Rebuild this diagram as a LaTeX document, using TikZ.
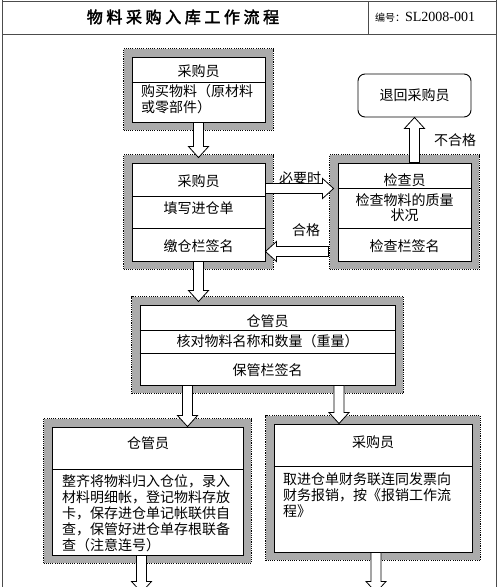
\documentclass[tikz,border=0pt]{standalone}
\usepackage{fontspec}
\setmainfont{Noto Sans CJK SC}
\newfontfamily\titlefont[FakeBold=2.5]{Noto Sans CJK SC}
\newfontfamily\numfont{Liberation Serif}
\usetikzlibrary{calc,fit,backgrounds}

\tikzset{
  panel/.style={draw=black, line width=0.9pt, fill=white, inner sep=0pt},
  shadeframe/.style={fill=black!33, draw=black, line width=1.1pt,
    dash pattern=on 1.1pt off 1.1pt, inner sep=8pt},
  txt/.style={inner sep=0pt, font=\fontsize{14}{16}\selectfont},
  body/.style={txt, anchor=north west, align=left},
  hollow/.style={draw=black, line width=0.8pt, fill=white, line join=miter},
  rule/.style={draw=black, line width=0.8pt},
  pageline/.style={draw=black!70, line width=1pt},
}

% hollow block arrow from #1 to the tip #2
\newcommand{\hollowarrow}[2]{%
  \coordinate (ha) at ($(#2)!11pt!(#1)$);
  \path[hollow] ($(#1)!5pt!90:(#2)$) -- ($(ha)!5pt!90:(#2)$)
    -- ($(ha)!10pt!90:(#2)$) -- (#2) -- ($(ha)!10pt!-90:(#2)$)
    -- ($(ha)!5pt!-90:(#2)$) -- ($(#1)!5pt!-90:(#2)$) -- cycle;
}

\begin{document}
\begin{tikzpicture}[x=1pt,y=-1pt]
  \useasboundingbox (0,0) rectangle (500,587);

  % page frame and title row
  \draw[pageline] (2,0) -- (2,587);
  \draw[pageline] (496,0) -- (496,587);
  \draw[pageline] (2,1) -- (496,1);
  \draw[pageline] (2,34) -- (496,34);
  \draw[pageline] (368,1) -- (368,34);
  \node[inner sep=0pt, font=\titlefont\fontsize{16}{18}\selectfont] (title) at (183,17)
    {物 料 采 购 入 库 工 作 流 程};
  \node[inner sep=0pt] (code) at (425,17)
    {{\fontsize{10}{12}\selectfont 编号：}{\numfont\fontsize{14}{16}\selectfont SL2008-001}};

  % boxes
  \node[panel, minimum width=133pt, minimum height=65pt] (buy) at (198.5,89.5) {};
  \node[panel, minimum width=133pt, minimum height=98pt] (entry) at (198.5,212) {};
  \node[panel, minimum width=133pt, minimum height=98pt] (check) at (404.5,212) {};
  \node[panel, txt, rounded corners=7pt, minimum width=113pt, minimum height=43pt] (ret)
    at (414.5,95.5) {退回采购员};
  \node[panel, minimum width=255pt, minimum height=80pt] (store) at (267.5,345) {};
  \node[panel, minimum width=191pt, minimum height=128pt] (shelve) at (147.5,491) {};
  \node[panel, minimum width=198pt, minimum height=128pt] (claim) at (373,488) {};

  \begin{scope}[on background layer]
    \node[shadeframe, fit=(buy)] (buy-f) {};
    \node[shadeframe, fit=(entry)] (entry-f) {};
    \node[shadeframe, fit=(check)] (check-f) {};
    \node[shadeframe, fit=(store)] (store-f) {};
    \node[shadeframe, fit=(shelve)] (shelve-f) {};
    \node[shadeframe, fit=(claim)] (claim-f) {};
  \end{scope}

  % dividers
  \draw[rule] (buy.west |- 0,82) -- (buy.east |- 0,82);
  \draw[rule] (entry.west |- 0,196) -- (entry.east |- 0,196);
  \draw[rule] (entry.west |- 0,228) -- (entry.east |- 0,228);
  \draw[rule] (check.west |- 0,188) -- (check.east |- 0,188);
  \draw[rule] (check.west |- 0,228) -- (check.east |- 0,228);
  \draw[rule] (store.west |- 0,330) -- (store.east |- 0,330);
  \draw[rule] (store.west |- 0,353) -- (store.east |- 0,353);
  \draw[rule] (shelve.west |- 0,469) -- (shelve.east |- 0,469);
  \draw[rule] (claim.west |- 0,466) -- (claim.east |- 0,466);

  % texts
  \node[txt] (buy-h) at (198.5,71) {采购员};
  \node[body] (buy-b) at (141,84) {购买物料（原材料\\或零部件）};
  \node[txt] (entry-h) at (198.5,181) {采购员};
  \node[txt] (entry-m) at (198.5,208) {填写进仓单};
  \node[txt] (entry-s) at (198.5,246) {缴仓栏签名};
  \node[txt] (check-h) at (404.5,180) {检查员};
  \node[txt, align=center, font=\fontsize{14}{15}\selectfont] (check-m) at (404.5,207.5)
    {检查物料的质量\\状况};
  \node[txt] (check-s) at (404.5,246) {检查栏签名};
  \node[txt] (store-h) at (267.5,321) {仓管员};
  \node[txt] (store-m) at (267.5,341.5) {核对物料名称和数量（重量）};
  \node[txt] (store-s) at (267.5,370) {保管栏签名};
  \node[txt] (shelve-h) at (148,443) {仓管员};
  \node[body] (shelve-b) at (62,474)
    {整齐将物料归入仓位，录入\\材料明细帐，登记物料存放\\卡，保存进仓单记帐联供自\\查，保管好进仓单存根联备\\查（注意连号）};
  \node[txt] (claim-h) at (373,442) {采购员};
  \node[body] (claim-b) at (283,472)
    {取进仓单财务联连同发票向\\财务报销，按《报销工作流\\程》};

  % labels
  \node[txt] (need) at (300,178) {必要时};
  \node[txt] (pass) at (306,230) {合格};
  \node[txt] (fail) at (455,140) {不合格};

  % arrow ends
  \coordinate (entry-in) at ($(entry.north)+(0,-5)$);
  \coordinate (store-in) at ($(entry.south |- store.north)+(0,-3)$);
  \coordinate (store-l) at ($(store.south)+(-80,0)$);
  \coordinate (shelve-in) at (store-l |- shelve.north);
  \coordinate (store-r) at ($(store.south)+(71.5,0)$);
  \coordinate (claim-in) at (store-r |- claim.north);
  \coordinate (shelve-out) at ($(shelve.south)+(-6,0)$);
  \coordinate (shelve-end) at ($(shelve-out)+(0,37)$);
  \coordinate (claim-out) at ($(claim.south)+(3,0)$);
  \coordinate (claim-end) at ($(claim-out)+(0,40)$);
  \coordinate (need-out) at ($(entry.east)+(0,-23.5)$);
  \coordinate (need-in) at ($(need-out -| check.west)+(-4,0)$);
  \coordinate (pass-out) at ($(check.west)+(-9,39.5)$);
  \coordinate (pass-in) at (pass-out -| entry.east);
  \coordinate (fail-out) at (ret.south |- check.north);

  % arrows
  \hollowarrow{buy.south}{entry-in}
  \hollowarrow{entry.south}{store-in}
  \hollowarrow{store-l}{shelve-in}
  \hollowarrow{store-r}{claim-in}
  \hollowarrow{shelve-out}{shelve-end}
  \hollowarrow{claim-out}{claim-end}
  \hollowarrow{need-out}{need-in}
  \hollowarrow{pass-out}{pass-in}
  \hollowarrow{fail-out}{ret.south}
\end{tikzpicture}
\end{document}
